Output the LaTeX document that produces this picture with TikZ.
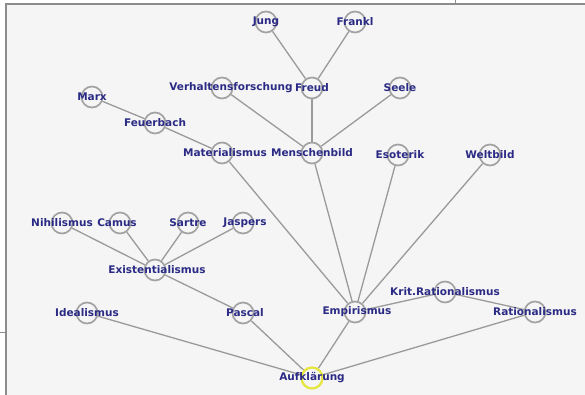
\documentclass[tikz,border=0pt]{standalone}
\usepackage{fontspec}
\newfontfamily\lbl{DejaVu Sans}
\usetikzlibrary{backgrounds}
\definecolor{navy}{HTML}{2B2B85}
\definecolor{ring}{HTML}{A2A2A2}
\definecolor{edgec}{HTML}{9A9A9A}
\definecolor{panel}{HTML}{F5F5F5}
\definecolor{frame}{HTML}{8C8C8C}
\definecolor{gelb}{HTML}{E6E63A}
\begin{document}
\begin{tikzpicture}[x=1pt,y=-1pt,
  v/.style={circle, draw=ring, line width=1.7pt, minimum size=21pt, inner sep=0pt},
  root/.style={v, draw=gelb, line width=2.2pt},
  lab/.style={font=\lbl\bfseries\fontsize{10.5}{12}\selectfont, text=navy, inner sep=0pt},
  e/.style={draw=edgec, line width=1.3pt}]
\useasboundingbox (0,0) rectangle (585,395);
\begin{pgfonlayer}{background}
\fill[white] (0,0) rectangle (585,395);
\fill[panel] (6,4) rectangle (585,395);
\draw[frame, line width=1.5pt] (6,395) -- (6,4) -- (585,4);
\draw[frame, line width=1pt] (455,0) -- (455,4);
\draw[frame, line width=1pt] (0,332) -- (6,332);
\end{pgfonlayer}
% nodes
\node[v, label={[lab]center:Jung}] (jung) at (266,22) {};
\node[v, label={[lab]center:Frankl}] (frankl) at (355,22) {};
\node[v, label={[lab,xshift=9pt]center:Verhaltensforschung}] (verh) at (222,88) {};
\node[v, label={[lab]center:Freud}] (freud) at (312,88) {};
\node[v, label={[lab]center:Seele}] (seele) at (400,88) {};
\node[v, label={[lab]center:Marx}] (marx) at (92,97) {};
\node[v, label={[lab]center:Feuerbach}] (feuer) at (155,123) {};
\node[v, label={[lab,xshift=3pt]center:Materialismus}] (mat) at (222,153) {};
\node[v, label={[lab]center:Menschenbild}] (mensch) at (312,153) {};
\node[v, label={[lab,xshift=2pt]center:Esoterik}] (eso) at (398,155) {};
\node[v, label={[lab]center:Weltbild}] (welt) at (490,155) {};
\node[v, label={[lab]center:Nihilismus}] (nihil) at (62,223) {};
\node[v, label={[lab,xshift=-3pt]center:Camus}] (camus) at (120,223) {};
\node[v, label={[lab]center:Sartre}] (sartre) at (188,223) {};
\node[v, label={[lab,xshift=2pt]center:Jaspers}] (jaspers) at (243,223) {};
\node[v, label={[lab,xshift=2pt]center:Existentialismus}] (exist) at (155,270) {};
\node[v, label={[lab]center:Idealismus}] (ideal) at (87,313) {};
\node[v, label={[lab,xshift=2pt]center:Pascal}] (pascal) at (243,313) {};
\node[v, label={[lab,xshift=2pt]center:Empirismus}] (emp) at (355,312) {};
\node[v, label={[lab]center:Krit.Rationalismus}] (krit) at (445,292) {};
\node[v, label={[lab]center:Rationalismus}] (rat) at (535,312) {};
\node[root, label={[lab]center:Aufklärung}] (auf) at (312,378) {};
% edges
\begin{pgfonlayer}{background}
\draw[e] (jung) -- (freud);
\draw[e] (frankl) -- (freud);
\draw[e] (freud) -- (mensch);
\draw[e] (verh) -- (mensch);
\draw[e] (seele) -- (mensch);
\draw[e] (marx) -- (feuer);
\draw[e] (feuer) -- (mat);
\draw[e] (mat) -- (emp);
\draw[e] (mensch) -- (emp);
\draw[e] (eso) -- (emp);
\draw[e] (welt) -- (emp);
\draw[e] (nihil) -- (exist);
\draw[e] (camus) -- (exist);
\draw[e] (sartre) -- (exist);
\draw[e] (jaspers) -- (exist);
\draw[e] (exist) -- (pascal);
\draw[e] (pascal) -- (auf);
\draw[e] (ideal) -- (auf);
\draw[e] (emp) -- (auf);
\draw[e] (rat) -- (auf);
\draw[e] (emp) -- (krit);
\draw[e] (krit) -- (rat);
\end{pgfonlayer}
\end{tikzpicture}
\end{document}
